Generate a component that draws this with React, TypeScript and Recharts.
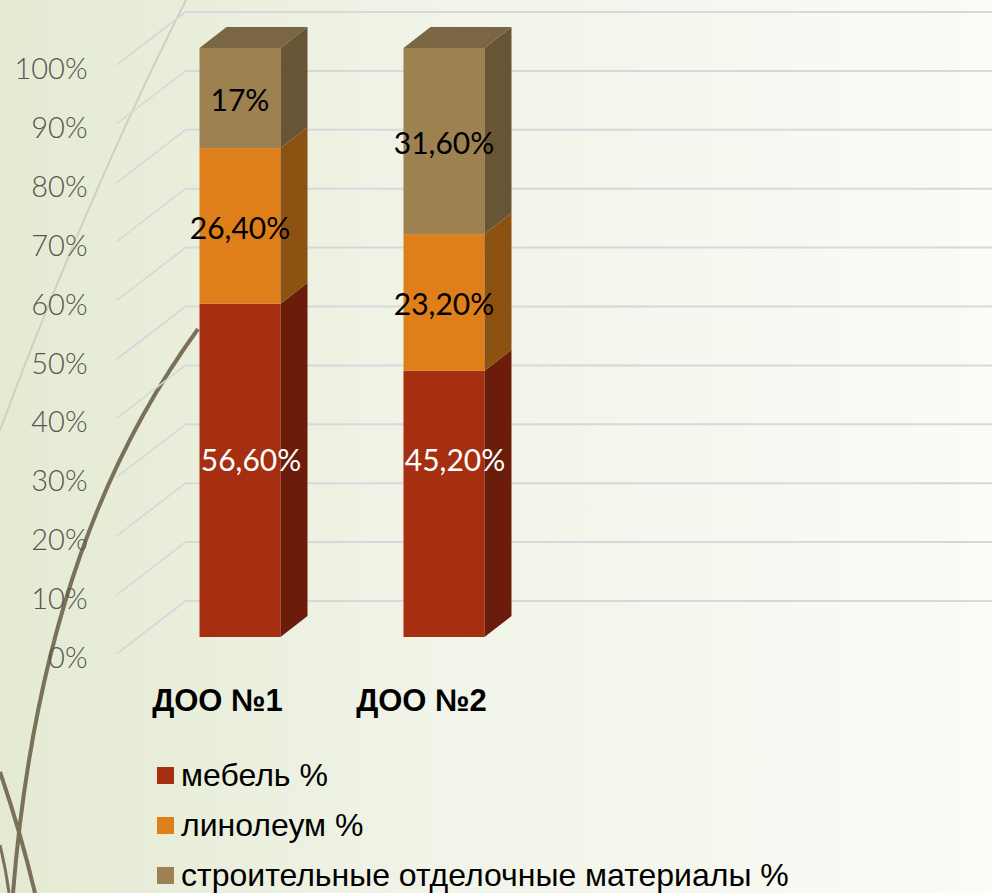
import React from 'react';
import { BarChart, Bar, XAxis, YAxis, CartesianGrid, Legend, LabelList } from 'recharts';

const categories = ['ДОО №1', 'ДОО №2'];
const mebel = [56.6, 45.2];
const linoleum = [26.4, 23.2];
const stroy = [17, 31.6];
const yTicks = [0, 10, 20, 30, 40, 50, 60, 70, 80, 90, 100];
const seriesNames = ['мебель %', 'линолеум %', 'строительные отделочные материалы %'];
const labelTexts = {
  mebel: ['56,60%', '45,20%'],
  linoleum: ['26,40%', '23,20%'],
  stroy: ['17%', '31,60%'],
};

const data = categories.map((name, i) => ({
  name,
  mebel: mebel[i],
  linoleum: linoleum[i],
  stroy: stroy[i],
}));

const DX = 27;
const DY = 21;
const NUM_FONT = 'Lato, "Open Sans", sans-serif';
const TEXT_FONT = '"Liberation Sans", Arial, sans-serif';

const box = (front: string, side: string, top: string, drawTop: boolean) => (p: any) => {
  const { x, y, width: w, height: h } = p;
  if (!h) return <g />;
  return (
    <g>
      <rect x={x} y={y} width={w} height={h} fill={front} />
      <polygon points={`${x + w},${y} ${x + w + DX},${y - DY} ${x + w + DX},${y + h - DY} ${x + w},${y + h}`} fill={side} />
      {drawTop && (
        <polygon points={`${x},${y} ${x + DX},${y - DY} ${x + w + DX},${y - DY} ${x + w},${y}`} fill={top} />
      )}
    </g>
  );
};

const makeLabel = (key: 'mebel' | 'linoleum' | 'stroy', color: string, dx: number, fromBase: boolean) => (p: any) => {
  const { x, y, width, height, index } = p;
  const cy = fromBase ? y + height - 177 : y + height / 2 + 2;
  return (
    <text x={x + width / 2 + dx} y={cy} dy={11} textAnchor="middle" fill={color}
      style={{ fontFamily: NUM_FONT, fontSize: 30, fontWeight: 400 }}>
      {labelTexts[key][index]}
    </text>
  );
};

const gridLine = (p: any) => {
  const { x1, x2, y1, index } = p;
  return (
    <g key={`g-${index}`}>
      <line x1={x1 - 21} y1={y1 + 17} x2={x1 + 48} y2={y1 - 36} stroke="#d6d7de" strokeWidth={1.6} />
      <line x1={x1 + 48} y1={y1 - 36} x2={x2 + 447} y2={y1 - 36} stroke="#d8d8dc" strokeWidth={2} />
    </g>
  );
};

const YTick = (p: any) => {
  const { x, y, payload } = p;
  return (
    <text x={x - 50} y={y + 20} dy={11} textAnchor="end" fill="#555555"
      style={{ fontFamily: NUM_FONT, fontSize: 29, fontWeight: 300 }}>
      {`${payload.value}%`}
    </text>
  );
};

const XTick = (p: any) => {
  const { x, y, payload } = p;
  return (
    <text x={x - 22} y={y + 74} textAnchor="middle" fill="#000"
      style={{ fontFamily: TEXT_FONT, fontSize: 31, fontWeight: 700 }}>
      {payload.value}
    </text>
  );
};

const legendColors = ['#a52f10', '#df7f1a', '#9e8150'];

const LegendContent = () => (
  <div style={{ fontFamily: TEXT_FONT, fontSize: 32, color: '#000', lineHeight: '36px' }}>
    {seriesNames.map((n, i) => (
      <div key={n} style={{ height: 50, display: 'flex', alignItems: 'center' }}>
        <span style={{ width: 17, height: 17, background: legendColors[i], marginRight: 7, display: 'inline-block' }} />
        <span>{n}</span>
      </div>
    ))}
  </div>
);

export default function App() {
  return (
    <div style={{ position: 'absolute', left: 0, top: 0, width: 992, height: 893, overflow: 'hidden' }}>
      <svg width={992} height={893} style={{ position: 'absolute', left: 0, top: 0 }}>
        <defs>
          <linearGradient id="bg" x1="0" y1="0" x2="1" y2="0">
            <stop offset="0" stopColor="#e4ead2" />
            <stop offset="0.45" stopColor="#f1f4e8" />
            <stop offset="1" stopColor="#fbfbf7" />
          </linearGradient>
        </defs>
        <rect width={992} height={893} fill="url(#bg)" />
        <path d="M186,0 Q90,190 0,430" stroke="#cfd1c0" strokeWidth={2} fill="none" />
        <path d="M198,329 C110,450 35,620 13,893" stroke="#7b7058" strokeWidth={4} fill="none" />
        <path d="M0,772 Q20,830 35,893" stroke="#7b7058" strokeWidth={4} fill="none" />
        <path d="M0,845 Q6,870 9,893" stroke="#7b7058" strokeWidth={3} fill="none" />
      </svg>
      <div style={{ position: 'absolute', left: 0, top: 0 }}>
        <BarChart width={992} height={893} data={data}
          margin={{ top: 48, right: 446.5, left: 0, bottom: 6 }}>
          <CartesianGrid vertical={false} horizontal={gridLine} />
          <XAxis dataKey="name" axisLine={false} tickLine={false} tickSize={0} tickMargin={0}
            height={100} tick={<XTick />} interval={0} />
          <YAxis type="number" domain={[0, 100]} ticks={yTicks} axisLine={false} tickLine={false}
            tickSize={0} tickMargin={0} width={137.5} tick={<YTick />} />
          <Legend layout="vertical" align="center" verticalAlign="bottom" content={<LegendContent />}
            wrapperStyle={{ left: 157, top: 750, width: 700, height: 150 }} />
          <Bar dataKey="mebel" name={seriesNames[0]} stackId="a" barSize={81} fill="#a52f10"
            isAnimationActive={false} shape={box('#a52f10', '#6b1c0b', '#7e2410', false)}>
            <LabelList dataKey="mebel" content={makeLabel('mebel', '#ffffff', 11, true)} />
          </Bar>
          <Bar dataKey="linoleum" name={seriesNames[1]} stackId="a" barSize={81} fill="#df7f1a"
            isAnimationActive={false} shape={box('#df7f1a', '#8c5211', '#a86414', false)}>
            <LabelList dataKey="linoleum" content={makeLabel('linoleum', '#000000', 0, false)} />
          </Bar>
          <Bar dataKey="stroy" name={seriesNames[2]} stackId="a" barSize={81} fill="#9e8150"
            isAnimationActive={false} shape={box('#9e8150', '#675535', '#7b6643', true)}>
            <LabelList dataKey="stroy" content={makeLabel('stroy', '#000000', 0, false)} />
          </Bar>
        </BarChart>
      </div>
    </div>
  );
}
